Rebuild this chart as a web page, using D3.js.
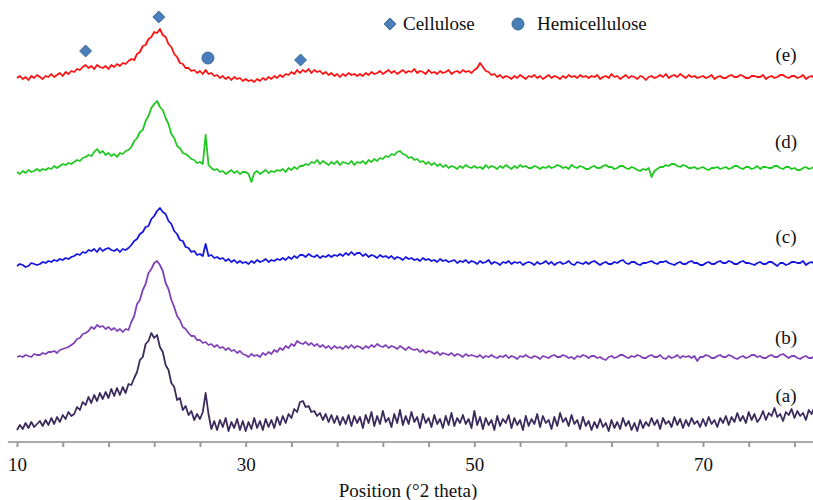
<!DOCTYPE html>
<html>
<head>
<meta charset="utf-8">
<script src="https://cdn.jsdelivr.net/npm/d3@7"></script>
<style>
  body { margin: 0; background: #fff; }
  text { font-family: "Liberation Serif", "Times New Roman", serif; fill: #111; }
</style>
</head>
<body>
<div id="xrdChart"></div>
<script>
// 2 theta grid, 10 to 80 deg, 0.25 deg steps
var twoTheta = d3.range(10, 80.001, 0.25);

var seriesNames = ["(a)", "(b)", "(c)", "(d)", "(e)"];
var seriesColors = ["#3b2b5c", "#8040b8", "#1515e0", "#1ec81e", "#ff1010"];
var seriesOffsets = [0, 80, 170, 265, 360];

var patternA = [
  12, 17, 13, 19, 14, 20, 15, 18, 21, 16, 22, 17, 24, 18, 25, 20, 27, 23, 30, 26,
  28, 35, 32, 40, 37, 45, 39, 47, 41, 49, 43, 50, 44, 53, 46, 54, 47, 55, 49, 58,
  57, 64, 70, 82, 85, 98, 101, 109, 104, 107, 95, 90, 77, 72, 59, 55, 42, 44, 32, 36,
  27, 31, 22, 28, 23, 30, 49, 28, 13, 21, 12, 22, 15, 24, 11, 20, 14, 23, 12, 21,
  11, 20, 13, 24, 14, 21, 12, 23, 15, 22, 14, 25, 17, 26, 19, 28, 24, 33, 30, 40,
  41, 35, 36, 30, 31, 26, 29, 22, 28, 20, 27, 19, 26, 17, 25, 18, 27, 16, 26, 19,
  25, 14, 27, 19, 30, 16, 26, 18, 31, 20, 24, 15, 28, 19, 32, 17, 26, 18, 30, 20,
  25, 14, 28, 19, 24, 15, 27, 18, 23, 14, 26, 17, 29, 16, 24, 19, 27, 18, 23, 14,
  31, 17, 25, 13, 24, 17, 22, 12, 26, 16, 23, 19, 27, 14, 24, 17, 22, 12, 26, 16,
  23, 18, 28, 15, 26, 19, 22, 13, 25, 16, 29, 20, 24, 16, 27, 18, 22, 13, 25, 16,
  21, 12, 20, 14, 23, 15, 19, 11, 22, 14, 20, 13, 24, 16, 21, 12, 19, 11, 22, 14,
  20, 16, 24, 17, 22, 13, 24, 18, 21, 15, 25, 17, 23, 14, 22, 16, 24, 18, 21, 15,
  23, 16, 25, 18, 22, 15, 24, 19, 26, 17, 25, 20, 29, 21, 26, 19, 30, 22, 28, 20,
  24, 31, 22, 29, 26, 34, 25, 28, 21, 30, 27, 33, 24, 31, 26, 29, 22, 32, 28, 35,
  27
];

var patternB = [
  5, 6, 5, 7, 6, 5, 8, 7, 7, 9, 8, 10, 10, 11, 9, 12, 13, 14, 15, 17,
  19, 23, 24, 28, 29, 31, 35, 33, 37, 35, 36, 33, 35, 32, 34, 31, 33, 30, 33, 32,
  40, 46, 58, 62, 72, 78, 89, 93, 99, 101, 97, 91, 79, 73, 62, 55, 46, 42, 35, 33,
  29, 26, 26, 22, 22, 19, 20, 17, 18, 15, 17, 14, 15, 12, 14, 11, 12, 9, 11, 8,
  7, 5, 8, 6, 7, 5, 9, 7, 10, 8, 12, 10, 14, 12, 16, 14, 18, 16, 21, 19,
  18, 20, 17, 19, 16, 18, 15, 17, 14, 16, 13, 16, 14, 15, 13, 16, 14, 17, 14, 16,
  15, 13, 16, 14, 17, 15, 18, 16, 15, 17, 14, 16, 15, 13, 16, 14, 12, 15, 13, 12,
  13, 10, 12, 9, 11, 10, 8, 10, 7, 9, 8, 7, 9, 6, 8, 7, 5, 8, 6, 7,
  6, 5, 7, 4, 6, 5, 7, 5, 4, 6, 5, 7, 4, 6, 5, 3, 6, 5, 7, 5,
  4, 6, 5, 3, 6, 5, 4, 6, 7, 5, 5, 7, 6, 4, 5, 3, 6, 5, 7, 6,
  4, 6, 6, 4, 5, 3, 2, 5, 6, 4, 5, 7, 7, 5, 4, 6, 5, 7, 6, 4,
  4, 6, 7, 5, 5, 7, 4, 3, 6, 4, 5, 7, 4, 6, 5, 6, 4, 6, 1, 5,
  5, 7, 6, 4, 4, 6, 7, 5, 5, 7, 6, 4, 3, 5, 6, 4, 5, 7, 7, 5,
  6, 4, 4, 6, 7, 5, 5, 7, 8, 6, 4, 6, 6, 4, 3, 5, 6, 4, 4, 6,
  5
];

var patternC = [
  6, 8, 7, 5, 6, 9, 8, 7, 8, 10, 9, 11, 10, 12, 11, 13, 12, 14, 13, 15,
  16, 18, 17, 20, 19, 22, 21, 23, 20, 24, 21, 23, 24, 22, 21, 23, 20, 23, 22, 24,
  27, 31, 33, 38, 40, 45, 46, 53, 56, 61, 64, 60, 58, 51, 48, 41, 38, 32, 31, 25,
  24, 20, 21, 17, 18, 16, 28, 16, 17, 14, 15, 13, 14, 11, 13, 10, 12, 9, 11, 9,
  10, 8, 11, 9, 12, 10, 11, 13, 10, 12, 11, 13, 12, 14, 12, 15, 13, 16, 14, 17,
  17, 15, 18, 16, 15, 17, 14, 16, 15, 17, 15, 17, 16, 18, 16, 19, 17, 20, 17, 19,
  19, 16, 18, 15, 17, 16, 14, 17, 15, 16, 14, 16, 13, 15, 14, 12, 15, 13, 14, 12,
  13, 11, 14, 12, 13, 11, 12, 10, 13, 11, 12, 10, 11, 12, 9, 11, 10, 12, 9, 11,
  10, 8, 11, 9, 10, 12, 8, 10, 9, 7, 10, 9, 11, 8, 10, 9, 10, 7, 9, 10,
  9, 7, 10, 8, 9, 11, 8, 10, 7, 9, 10, 8, 9, 11, 8, 7, 10, 9, 8, 10,
  8, 10, 11, 9, 7, 9, 10, 8, 8, 10, 9, 11, 12, 9, 8, 10, 10, 8, 7, 9,
  9, 10, 11, 9, 8, 10, 10, 11, 9, 8, 7, 9, 10, 8, 8, 10, 11, 9, 9, 7,
  7, 9, 10, 8, 8, 10, 11, 9, 9, 11, 10, 8, 8, 10, 11, 9, 9, 8, 7, 9,
  10, 8, 8, 10, 10, 8, 6, 9, 9, 7, 8, 10, 10, 9, 9, 11, 7, 9, 10, 8,
  9
];

var patternD = [
  5, 3, 6, 4, 7, 5, 6, 8, 6, 8, 7, 9, 8, 11, 9, 11, 13, 12, 14, 13,
  15, 17, 16, 19, 20, 22, 21, 25, 28, 24, 26, 22, 24, 21, 23, 20, 24, 23, 26, 27,
  30, 36, 39, 45, 47, 56, 61, 69, 73, 76, 70, 67, 59, 53, 43, 39, 31, 29, 24, 23,
  21, 18, 17, 14, 15, 13, 42, 12, 9, 7, 8, 5, 6, 3, 5, 7, 4, 6, 3, 5,
  5, 3, -5, 4, 6, 3, 5, 7, 4, 6, 5, 7, 6, 8, 5, 9, 7, 10, 8, 11,
  11, 13, 12, 15, 14, 17, 13, 16, 14, 12, 15, 13, 16, 12, 15, 14, 13, 16, 12, 15,
  14, 16, 13, 17, 15, 18, 16, 19, 18, 21, 20, 23, 22, 25, 26, 23, 22, 19, 20, 17,
  18, 15, 16, 13, 15, 12, 14, 11, 13, 10, 12, 9, 11, 10, 8, 11, 9, 12, 10, 9,
  11, 9, 10, 8, 12, 9, 11, 10, 8, 11, 9, 12, 10, 8, 11, 9, 12, 10, 11, 9,
  9, 11, 10, 8, 10, 9, 11, 9, 10, 12, 11, 9, 10, 8, 12, 10, 9, 11, 10, 8,
  8, 10, 11, 9, 9, 11, 12, 10, 10, 8, 9, 11, 11, 9, 8, 10, 9, 7, 6, 8,
  7, 9, 0, 6, 8, 10, 10, 12, 11, 13, 13, 11, 10, 12, 11, 9, 9, 10, 8, 9,
  10, 8, 7, 9, 9, 10, 8, 9, 10, 8, 9, 11, 11, 9, 8, 10, 10, 8, 9, 11,
  8, 10, 10, 9, 9, 11, 11, 9, 8, 10, 10, 8, 9, 7, 7, 9, 10, 8, 9, 10,
  8
];

var patternE = [
  4, 6, 3, 5, 2, 6, 4, 7, 5, 3, 6, 5, 8, 5, 7, 9, 6, 10, 8, 11,
  10, 13, 12, 15, 17, 14, 16, 13, 17, 15, 14, 16, 13, 17, 15, 18, 16, 19, 18, 21,
  23, 22, 28, 30, 36, 37, 43, 45, 50, 49, 53, 47, 45, 38, 35, 28, 25, 19, 18, 14,
  14, 11, 12, 9, 11, 8, 12, 8, 9, 6, 7, 4, 6, 3, 5, 2, 5, 3, 4, 1,
  3, 1, 2, 0, 3, 1, 4, 2, 5, 3, 6, 4, 7, 5, 8, 7, 10, 8, 12, 9,
  12, 10, 13, 9, 12, 10, 11, 8, 10, 7, 9, 6, 8, 5, 8, 6, 9, 7, 8, 6,
  8, 6, 9, 7, 10, 8, 9, 11, 8, 10, 12, 9, 11, 8, 10, 12, 9, 11, 10, 13,
  9, 11, 10, 8, 12, 9, 10, 8, 11, 9, 10, 12, 8, 10, 11, 9, 12, 10, 11, 9,
  12, 14, 19, 15, 11, 10, 7, 8, 5, 7, 4, 6, 5, 3, 6, 4, 7, 5, 3, 6,
  5, 7, 4, 6, 3, 5, 7, 4, 6, 5, 3, 6, 4, 7, 5, 6, 4, 7, 5, 6,
  4, 6, 5, 7, 3, 5, 6, 4, 8, 5, 6, 3, 5, 7, 4, 6, 5, 3, 6, 5,
  2, 5, 6, 4, 5, 7, 5, 8, 4, 6, 7, 5, 8, 6, 4, 7, 5, 6, 4, 5,
  6, 4, 5, 7, 3, 5, 6, 4, 4, 6, 7, 5, 5, 7, 6, 4, 4, 6, 6, 5,
  5, 7, 3, 5, 6, 4, 5, 7, 7, 5, 4, 6, 6, 4, 5, 7, 3, 5, 6, 4,
  5
];

var patterns = [patternA, patternB, patternC, patternD, patternE];

// peak markers above pattern (e)
var markerTheta = [16, 22.4, 26.7, 34.8];
var markerLevel = [391, 425, 384, 382];
var markerKind = ["cellulose", "cellulose", "hemicellulose", "cellulose"];

var tickValues = d3.range(10, 80, 4);
var labelledTicks = [10, 30, 50, 70];

var chart = {
  width: 813,
  height: 500,
  axisY: 442,
};

var svg = d3
  .select("#xrdChart")
  .append("svg")
  .attr("width", chart.width)
  .attr("height", chart.height);

var x = d3.scaleLinear().domain([10, 70]).range([17, 703]);
var y = d3.scaleLinear().domain([0, 440]).range([chart.axisY, chart.axisY - 440]);

/* axis */
var xAxis = (g) =>
  g
    .attr("transform", `translate(0, ${chart.axisY})`)
    .call(
      d3.axisBottom(x)
        .tickValues(tickValues)
        .tickSize(5)
        .tickSizeOuter(0)
        .tickFormat((d) => (labelledTicks.indexOf(d) >= 0 ? d : ""))
    )
    .attr("font-family", null)
    .attr("font-size", null)
    .call((g) => g.select(".domain").remove())
    .call((g) => g.selectAll(".tick line").attr("stroke", "#999").attr("stroke-width", 2))
    .call((g) =>
      g.selectAll(".tick text")
        .attr("dy", "0")
        .attr("y", 29)
        .style("font-size", "19px")
        .attr("fill", "#111")
    );

svg
  .append("line")
  .attr("x1", x(9.2))
  .attr("x2", chart.width)
  .attr("y1", chart.axisY)
  .attr("y2", chart.axisY)
  .attr("stroke", "#aaa")
  .attr("stroke-width", 2);

svg.append("g").call(xAxis);

svg
  .append("text")
  .attr("x", 408)
  .attr("y", 497)
  .attr("text-anchor", "middle")
  .style("font-size", "19px")
  .text("Position (°2 theta)");

/* patterns */
patterns.forEach((values, i) => {
  var line = d3
    .line()
    .x((d, j) => x(twoTheta[j]))
    .y((d) => y(d + seriesOffsets[i]));

  svg
    .append("path")
    .datum(values)
    .attr("fill", "none")
    .attr("stroke", seriesColors[i])
    .attr("stroke-width", 1.8)
    .attr("stroke-linejoin", "round")
    .attr("d", line);
});

/* series labels */
var labelY = [396, 338, 237, 142, 55];
seriesNames.forEach((name, i) => {
  svg
    .append("text")
    .attr("x", 786)
    .attr("y", labelY[i] + 6)
    .attr("text-anchor", "middle")
    .style("font-size", "19px")
    .text(name);
});

/* markers */
var diamond = d3.symbol().type(d3.symbolDiamond2).size(90);
markerTheta.forEach((t, i) => {
  if (markerKind[i] === "cellulose") {
    svg
      .append("path")
      .attr("d", diamond())
      .attr("transform", `translate(${x(t)}, ${y(markerLevel[i])})`)
      .attr("fill", "#4a7ebb")
      .attr("stroke", "#3a6699")
      .attr("stroke-width", 1);
  } else {
    svg
      .append("circle")
      .attr("cx", x(t))
      .attr("cy", y(markerLevel[i]))
      .attr("r", 6)
      .attr("fill", "#4a7ebb")
      .attr("stroke", "#3a6699")
      .attr("stroke-width", 1);
  }
});

/* legend */
svg
  .append("path")
  .attr("d", diamond())
  .attr("transform", "translate(390, 24)")
  .attr("fill", "#4a7ebb")
  .attr("stroke", "#3a6699");

svg
  .append("text")
  .attr("x", 403)
  .attr("y", 30)
  .style("font-size", "19px")
  .text("Cellulose");

svg
  .append("circle")
  .attr("cx", 518)
  .attr("cy", 24)
  .attr("r", 6)
  .attr("fill", "#4a7ebb")
  .attr("stroke", "#3a6699");

svg
  .append("text")
  .attr("x", 537)
  .attr("y", 30)
  .style("font-size", "19px")
  .text("Hemicellulose");
</script>
</body>
</html>
